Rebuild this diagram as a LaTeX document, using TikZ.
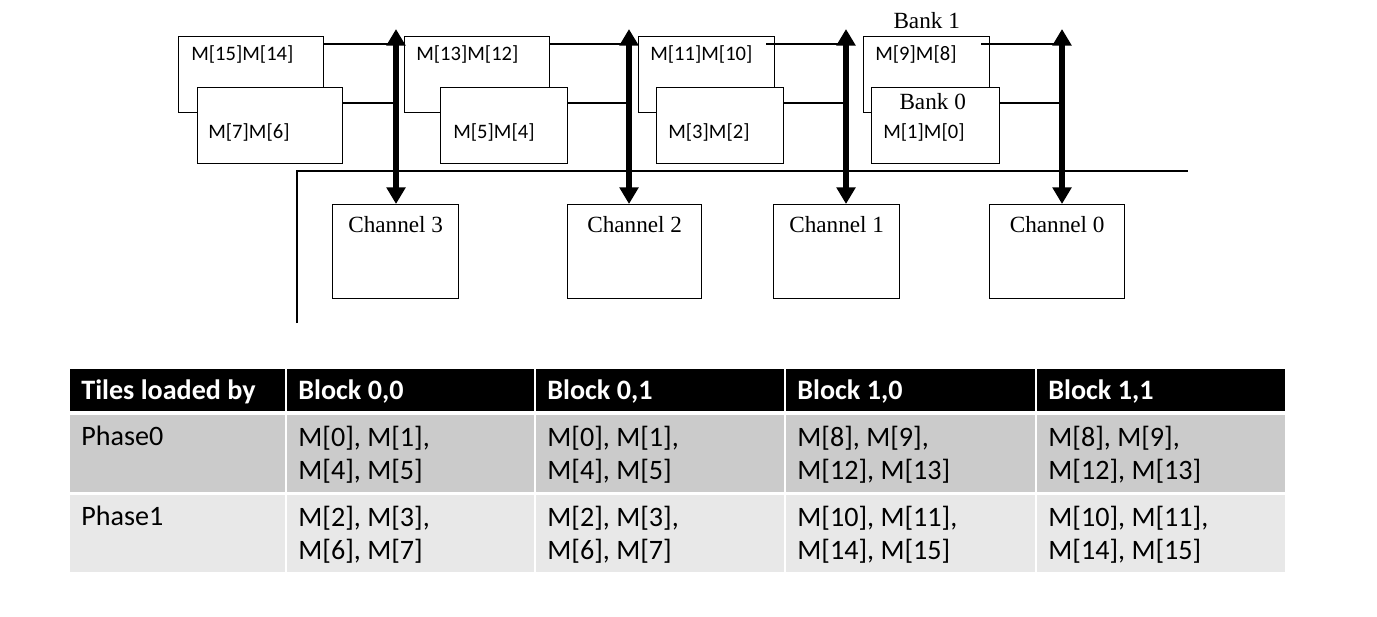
\documentclass[tikz,border=0pt]{standalone}
\usepackage{fontspec}
\setmainfont{Carlito}
\newfontfamily\timesfont{Liberation Serif}
\usetikzlibrary{arrows.meta,positioning}
\definecolor{rowdark}{HTML}{CBCBCB}
\definecolor{rowlight}{HTML}{E8E8E8}

\begin{document}
\begin{tikzpicture}[x=0.02cm, y=-0.02cm,
    membox/.style={draw, line width=0.8pt, fill=white, anchor=north west,
        inner sep=0pt, minimum height=1.52cm, minimum width=#1},
    chanbox/.style={draw, line width=0.8pt, anchor=north west,
        inner sep=0pt, minimum height=1.88cm, minimum width=#1},
    memlabel/.style={anchor=west, inner sep=0pt, font=\fontsize{11.7}{14}\selectfont},
    serlabel/.style={inner sep=0pt, font=\timesfont\fontsize{13.2}{15}\selectfont},
    wire/.style={line width=0.8pt},
    bus/.style={line width=3.3pt,
        {Triangle[width=10.5pt,length=9.5pt]}-{Triangle[width=10.5pt,length=9.5pt]}},
    headtext/.style={anchor=base west, inner sep=0pt, text=white,
        font=\fontsize{16}{18}\selectfont\bfseries},
    celltext/.style={anchor=north west, inner sep=0pt, align=left,
        font=\fontsize{16}{18.4}\selectfont}
]
\useasboundingbox (0,0) rectangle (1377,616);

    % Bank 1
    \node[membox=2.9cm]  (m1514) at (178,36) {};
    \node[membox=2.9cm]  (m1312) at (404,36) {};
    \node[membox=2.72cm] (m1110) at (638,36) {};
    \node[membox=2.52cm] (m98)   at (863,36) {};
    \node[memlabel] at ([shift={(13,18)}]m1514.north west) {M[15]M[14]};
    \node[memlabel] at ([shift={(12,18)}]m1312.north west) {M[13]M[12]};
    \node[memlabel] at ([shift={(12,18)}]m1110.north west) {M[11]M[10]};
    \node[memlabel] at ([shift={(12,18)}]m98.north west) {M[9]M[8]};
    \node[serlabel] at ([shift={(0,-15)}]m98.north) {Bank 1};

    % Bank 0
    \node[membox=2.9cm]  (m76) at (197,87) {};
    \node[membox=2.54cm] (m54) at (440,87) {};
    \node[membox=2.54cm] (m32) at (656,87) {};
    \node[membox=2.56cm] (m10) at (871,87) {};
    \node[memlabel] at ([shift={(11,45)}]m76.north west) {M[7]M[6]};
    \node[memlabel] at ([shift={(13,45)}]m54.north west) {M[5]M[4]};
    \node[memlabel] at ([shift={(12,45)}]m32.north west) {M[3]M[2]};
    \node[memlabel] at ([shift={(12,45)}]m10.north west) {M[1]M[0]};
    \node[serlabel] at ([shift={(-3,15)}]m10.north) {Bank 0};

    % Channels
    \node[chanbox=2.52cm] (ch3) at (332,204) {};
    \node[chanbox=2.68cm] (ch2) at (567,204) {};
    \node[chanbox=2.52cm] (ch1) at (773,204) {};
    \node[chanbox=2.7cm]  (ch0) at (989,204) {};
    \foreach \n in {3,2,1,0}
        \node[serlabel] at ([shift={(0,21)}]ch\n.north) {Channel \n};

    % Separator
    \draw[wire] (297,323) -- (297,171) -- (1188,171);

    % Wires to the buses
    \coordinate (bus3) at (396,29);
    \coordinate (bus2) at (629,29);
    \coordinate (bus1) at (846,29);
    \coordinate (bus0) at (1062,29);
    \draw[wire] ([shift={(0,8)}]m1514.north east) coordinate (w) -- (w -| bus3);
    \draw[wire] ([shift={(0,8)}]m1312.north east) coordinate (w) -- (w -| bus2);
    \draw[wire] ([shift={(-9,8)}]m1110.north east) coordinate (w) -- (w -| bus1);
    \draw[wire] ([shift={(-9,8)}]m98.north east) coordinate (w) -- (w -| bus0);
    \draw[wire] ([shift={(0,16)}]m76.north east) coordinate (w) -- (w -| bus3);
    \draw[wire] ([shift={(0,16)}]m54.north east) coordinate (w) -- (w -| bus2);
    \draw[wire] ([shift={(0,16)}]m32.north east) coordinate (w) -- (w -| bus1);
    \draw[wire] ([shift={(0,16)}]m10.north east) coordinate (w) -- (w -| bus0);

    % Buses
    \foreach \n in {3,2,1,0}
        \draw[bus] (bus\n) -- (bus\n |- ch\n.north);

    % Table cells
    \foreach \l/\r in {70/285, 287/534, 536/784, 786/1035, 1037/1285} {
        \fill[black] (\l,369) rectangle (\r,411);
        \fill[rowdark] (\l,415) rectangle (\r,492);
        \fill[rowlight] (\l,495) rectangle (\r,572);
    }

    % Table text
    \foreach \l/\t [count=\c] in {70/Tiles loaded by, 287/{Block 0,0},
            536/{Block 0,1}, 786/{Block 1,0}, 1037/{Block 1,1}}
        \node[headtext] (head\c) at (\l+11,399) {\t};
    \foreach \l/\t [count=\c] in {70/Phase0, 287/{M[0], M[1],\\M[4], M[5]},
            536/{M[0], M[1],\\M[4], M[5]}, 786/{M[8], M[9],\\M[12], M[13]},
            1037/{M[8], M[9],\\M[12], M[13]}}
        \node[celltext] (pzero\c) at (\l+11,426) {\t};
    \foreach \l/\t [count=\c] in {70/Phase1, 287/{M[2], M[3],\\M[6], M[7]},
            536/{M[2], M[3],\\M[6], M[7]}, 786/{M[10], M[11],\\M[14], M[15]},
            1037/{M[10], M[11],\\M[14], M[15]}}
        \node[celltext] (pone\c) at (\l+11,506) {\t};

\end{tikzpicture}
\end{document}
